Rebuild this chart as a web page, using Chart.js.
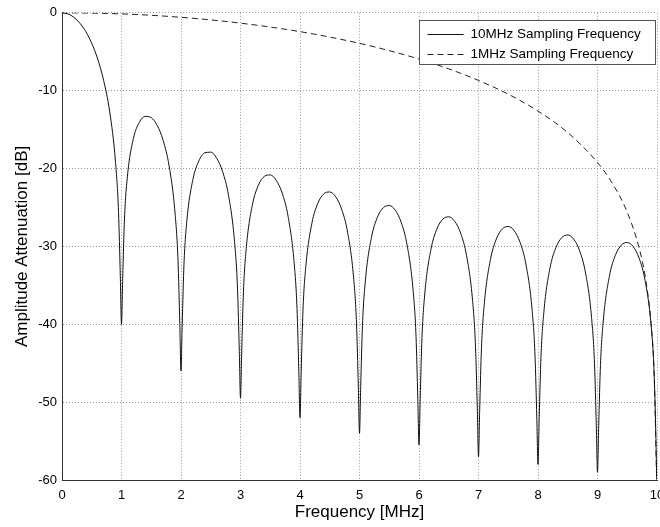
<!DOCTYPE html>
<html>
<head>
<meta charset="utf-8">
<script src="https://cdn.jsdelivr.net/npm/chart.js@4.4.1/dist/chart.umd.min.js"></script>
<style>
  html, body { margin: 0; padding: 0; background: #fff; overflow: hidden; }
  #wrap { width: 680px; height: 527px; }
</style>
</head>
<body>
<div id="wrap"><canvas id="chart" width="680" height="527"></canvas></div>
<script>
// frequency axis (MHz) for the 10MHz curve, denser near the nulls
const freq10 = [
  0, 0.1, 0.2, 0.3, 0.4, 0.5, 0.6, 0.7, 0.8, 0.9, 0.95, 0.98,
  1, 1.02, 1.05, 1.1, 1.2, 1.3, 1.4, 1.5, 1.6, 1.7, 1.8, 1.9, 1.95, 1.98,
  2, 2.02, 2.05, 2.1, 2.2, 2.3, 2.4, 2.5, 2.6, 2.7, 2.8, 2.9, 2.95, 2.98,
  3, 3.02, 3.05, 3.1, 3.2, 3.3, 3.4, 3.5, 3.6, 3.7, 3.8, 3.9, 3.95, 3.98,
  4, 4.02, 4.05, 4.1, 4.2, 4.3, 4.4, 4.5, 4.6, 4.7, 4.8, 4.9, 4.95, 4.98,
  5, 5.02, 5.05, 5.1, 5.2, 5.3, 5.4, 5.5, 5.6, 5.7, 5.8, 5.9, 5.95, 5.98,
  6, 6.02, 6.05, 6.1, 6.2, 6.3, 6.4, 6.5, 6.6, 6.7, 6.8, 6.9, 6.95, 6.98,
  7, 7.02, 7.05, 7.1, 7.2, 7.3, 7.4, 7.5, 7.6, 7.7, 7.8, 7.9, 7.95, 7.98,
  8, 8.02, 8.05, 8.1, 8.2, 8.3, 8.4, 8.5, 8.6, 8.7, 8.8, 8.9, 8.95, 8.98,
  9, 9.02, 9.05, 9.1, 9.2, 9.3, 9.4, 9.5, 9.6, 9.7, 9.8, 9.9, 9.95, 9.98,
  10
];
const atten10 = [
  0, -0.14, -0.58, -1.33, -2.42, -3.92, -5.94, -8.69, -12.62, -19.23, -25.61, -33.81,
  -40, -34.16, -26.48, -20.97, -16.14, -14.06, -13.30, -13.47, -14.46, -16.39, -19.66, -25.72, -31.85, -39.92,
  -46, -40.09, -32.29, -26.59, -21.41, -19.02, -17.98, -17.90, -18.68, -20.41, -23.50, -29.39, -35.45, -43.47,
  -49.5, -43.58, -35.74, -29.97, -24.66, -22.15, -21.01, -20.82, -21.51, -23.15, -26.15, -31.96, -37.99, -45.98,
  -52, -46.07, -38.20, -32.40, -27.02, -24.45, -23.25, -23.01, -23.63, -25.23, -28.18, -33.95, -39.95, -47.93,
  -54, -48.00, -40.12, -34.30, -28.88, -26.27, -25.03, -24.75, -25.34, -26.90, -29.83, -35.56, -41.54, -49.52,
  -55.5, -49.58, -41.69, -35.85, -30.41, -27.77, -26.50, -26.20, -26.77, -28.30, -31.21, -36.92, -42.89, -50.86,
  -57, -50.91, -43.02, -37.17, -31.71, -29.05, -27.76, -27.44, -27.99, -29.51, -32.40, -38.10, -44.06, -52.02,
  -58, -52.07, -44.17, -38.31, -32.83, -30.17, -28.87, -28.53, -29.07, -30.57, -33.45, -39.13, -45.09, -53.05,
  -59, -53.09, -45.19, -39.32, -33.83, -31.15, -29.84, -29.50, -30.02, -31.52, -34.38, -40.05, -46.01, -53.97,
  -62
];

// 1MHz curve
const freq1 = [0, 0.5, 1, 1.5, 2, 2.5, 3, 3.5, 4, 4.5, 5, 5.5, 6, 6.5, 7, 7.5, 8, 8.5, 9, 9.25, 9.5, 9.7, 9.8, 9.9, 9.95, 10];
const atten1 = [0, -0.04, -0.14, -0.32, -0.58, -0.91, -1.33, -1.83, -2.42, -3.12, -3.92, -4.86, -5.94, -7.20, -8.69, -10.45, -12.62, -15.39, -19.23, -21.90, -25.61, -30.21, -33.81, -39.91, -45.98, -62];

const seriesNames = ['10MHz Sampling Frequency', '1MHz Sampling Frequency'];
const xTicks = [0, 1, 2, 3, 4, 5, 6, 7, 8, 9, 10];
const yTicks = [-60, -50, -40, -30, -20, -10, 0];

const fontFamily = '"Liberation Sans", Arial, Helvetica, sans-serif';
Chart.defaults.font.family = fontFamily;
Chart.defaults.color = '#000';

// legend drawn inside the plot, top right, like the matlab one
const legendBox = {
  id: 'legendBox',
  afterDraw(chart) {
    const ctx = chart.ctx;
    const area = chart.chartArea;
    const w = 236, h = 44;
    const x0 = Math.round(area.right - 2 - w) + 0.5;
    const y0 = Math.round(area.top + 7) + 0.5;
    ctx.save();
    ctx.fillStyle = '#fff';
    ctx.fillRect(x0, y0, w, h);
    ctx.strokeStyle = '#555';
    ctx.lineWidth = 1;
    ctx.strokeRect(x0, y0, w, h);
    ctx.font = '13.5px ' + fontFamily;
    ctx.textBaseline = 'middle';
    ctx.fillStyle = '#000';
    chart.data.datasets.forEach(function(ds, i) {
      const yy = Math.round(y0 + 13.5 + i * 19.5) + 0.5;
      ctx.strokeStyle = ds.borderColor;
      ctx.lineWidth = 1;
      ctx.setLineDash(ds.borderDash || []);
      ctx.beginPath();
      ctx.moveTo(x0 + 8, yy);
      ctx.lineTo(x0 + 44, yy);
      ctx.stroke();
      ctx.setLineDash([]);
      ctx.fillText(ds.label, x0 + 51, yy);
    });
    ctx.restore();
  }
};

const data = {
  datasets: [{
    label: seriesNames[0],
    data: freq10.map(function(f, i) { return {x: f, y: atten10[i]}; }),
    borderColor: '#111',
    borderWidth: 1,
    cubicInterpolationMode: 'monotone'
  }, {
    label: seriesNames[1],
    data: freq1.map(function(f, i) { return {x: f, y: atten1[i]}; }),
    borderColor: '#222',
    borderWidth: 1,
    borderDash: [6, 4],
    cubicInterpolationMode: 'monotone'
  }]
};

const config = {
  type: 'line',
  data: data,
  options: {
    responsive: false,
    animation: false,
    devicePixelRatio: 1,
    layout: { padding: { left: 0, top: 10, right: 23, bottom: 0 } },
    elements: { point: { radius: 0 } },
    plugins: {
      legend: { display: false },
      tooltip: { enabled: false }
    },
    scales: {
      x: {
        type: 'linear',
        min: 0,
        max: 10,
        afterBuildTicks: function(s) { s.ticks = xTicks.map(function(v) { return {value: v}; }); },
        afterFit: function(s) { s.height = 47; },
        grid: { color: '#9a9a9a', drawTicks: false },
        border: { color: '#333', dash: [1, 2] },
        ticks: { padding: 8, font: { size: 13 }, maxRotation: 0, autoSkip: false },
        title: { display: true, text: 'Frequency [MHz]', font: { size: 17 }, padding: { top: 0, bottom: 4 } }
      },
      y: {
        type: 'linear',
        min: -60,
        max: 0,
        afterBuildTicks: function(s) { s.ticks = yTicks.map(function(v) { return {value: v}; }); },
        afterFit: function(s) { s.width = 62; },
        grid: { color: '#9a9a9a', drawTicks: false },
        border: { color: '#333', dash: [1, 2] },
        ticks: { padding: 5, font: { size: 13 } },
        title: { display: true, text: 'Amplitude Attenuation [dB]', font: { size: 17 }, padding: { top: 12, bottom: 0 } }
      }
    }
  },
  plugins: [legendBox]
};

const myChart = new Chart(document.getElementById('chart'), config);
</script>
</body>
</html>
